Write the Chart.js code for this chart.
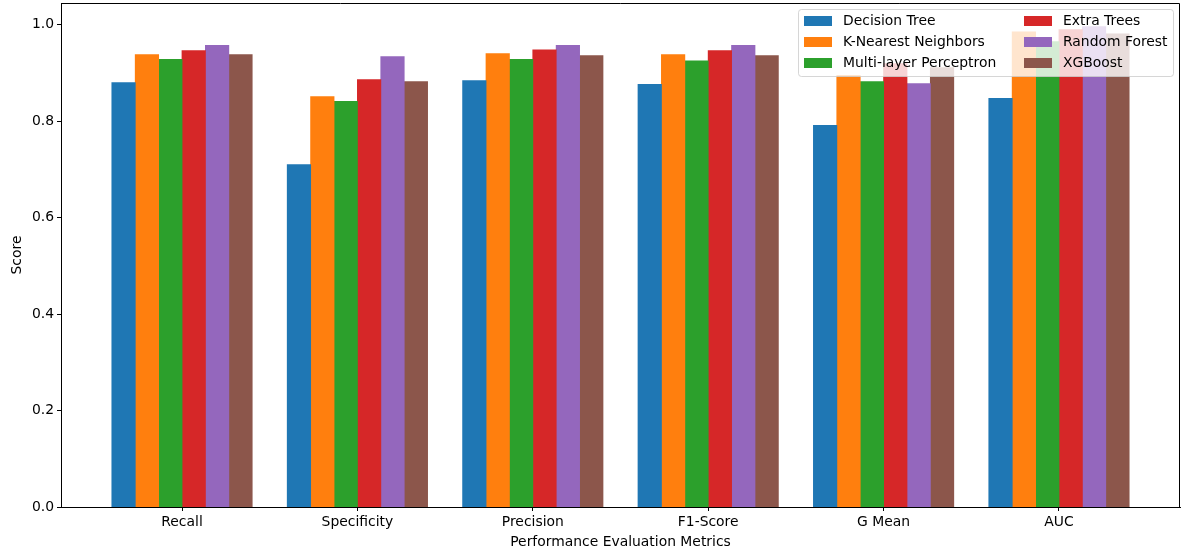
<!DOCTYPE html>
<html>
<head>
<meta charset="utf-8">
<title>Performance Evaluation Metrics</title>
<script src="https://cdn.jsdelivr.net/npm/chart.js"></script>
<style>
	body { margin: 0; background: #fff; }
	#wrap { width: 1189px; height: 560px; }
</style>
</head>
<body>
<div id="wrap"><canvas id="metrics-chartcanvas" width="1189" height="560"></canvas></div>
<script>
"use strict";

// categories on the x axis
var metrics = ["Recall", "Specificity", "Precision", "F1-Score", "G Mean", "AUC"];

// one array per model, same order as metrics
var decisionTree = [0.880, 0.710, 0.884, 0.876, 0.791, 0.847];
var kNearest     = [0.938, 0.851, 0.940, 0.938, 0.895, 0.985];
var mlp          = [0.928, 0.841, 0.928, 0.925, 0.882, 0.965];
var extraTrees   = [0.946, 0.886, 0.948, 0.946, 0.919, 0.990];
var randomForest = [0.957, 0.934, 0.957, 0.957, 0.878, 0.996];
var xgboost      = [0.938, 0.882, 0.936, 0.936, 0.911, 0.981];

var modelNames = ["Decision Tree", "K-Nearest Neighbors", "Multi-layer Perceptron",
	"Extra Trees", "Random Forest", "XGBoost"];

var yTicks = [0.0, 0.2, 0.4, 0.6, 0.8, 1.0];

var FONT = "'DejaVu Sans', sans-serif";
var FSIZE = 13.9;

Chart.defaults.color = "#000";
Chart.defaults.font.family = FONT;
Chart.defaults.font.size = FSIZE;

// build datasets
var seriesList = [decisionTree, kNearest, mlp, extraTrees, randomForest, xgboost];
var colors = ["#1f77b4", "#ff7f0e", "#2ca02c", "#d62728", "#9467bd", "#8c564b"];
var datasets = [];
for (var s = 0; s < seriesList.length; s++) {
	var pts = [];
	for (var i = 0; i < metrics.length; i++) {
		pts.push({ x: i, y: seriesList[s][i] });
	}
	datasets.push({
		label : modelNames[s],
		data : pts,
		backgroundColor : colors[s],
		borderWidth : 0,
		inflateAmount : 0.4,
		categoryPercentage : 0.8,
		barPercentage : 1.0
	});
}

// top and right sides of the box
var framePlugin = {
	id : "frame",
	afterDatasetsDraw : function(chart) {
		var a = chart.chartArea, ctx = chart.ctx;
		ctx.save();
		ctx.strokeStyle = "#000";
		ctx.lineWidth = 1;
		ctx.beginPath();
		ctx.moveTo(a.left, a.top + 0.5);
		ctx.lineTo(a.right - 0.5, a.top + 0.5);
		ctx.lineTo(a.right - 0.5, a.bottom);
		ctx.stroke();
		ctx.restore();
	}
};

// legend inside the axes, upper right, two columns
var legendPlugin = {
	id : "insideLegend",
	afterDraw : function(chart) {
		var a = chart.chartArea, ctx = chart.ctx;
		var w = 375, h = 67;
		var bx = a.right - 7 - w, by = a.top + 6;
		ctx.save();
		ctx.beginPath();
		ctx.roundRect(bx + 0.5, by + 0.5, w, h, 3);
		ctx.fillStyle = "rgba(255,255,255,0.8)";
		ctx.fill();
		ctx.strokeStyle = "rgba(204,204,204,0.8)";
		ctx.lineWidth = 1;
		ctx.stroke();
		ctx.font = FSIZE + "px " + FONT;
		ctx.textBaseline = "middle";
		var ds = chart.data.datasets;
		for (var k = 0; k < ds.length; k++) {
			var col = Math.floor(k / 3), row = k % 3;
			var hx = bx + 6 + col * 220;
			var cy = by + 12 + row * 21;
			ctx.fillStyle = ds[k].backgroundColor;
			ctx.fillRect(hx, cy - 5, 28, 10);
			ctx.fillStyle = "#000";
			ctx.fillText(ds[k].label, hx + 39, cy + 0.5);
		}
		ctx.restore();
	}
};

function noPad(scale) {
	scale.paddingTop = 0;
	scale.paddingBottom = 0;
	scale.paddingLeft = 0;
	scale.paddingRight = 0;
}

var ctx = document.getElementById("metrics-chartcanvas");
var metricsChart = new Chart(ctx, {
	type : "bar",
	data : { datasets : datasets },
	options : {
		responsive : false,
		animation : false,
		devicePixelRatio : 1,
		layout : { padding : { top : 3, right : 9, left : 0, bottom : 0 } },
		plugins : {
			legend : { display : false },
			tooltip : { enabled : false }
		},
		scales : {
			x : {
				type : "linear",
				offset : false,
				min : -0.69,
				max : 5.69,
				grid : { display : true, offset : false, drawOnChartArea : false, drawTicks : true, tickLength : 4, color : "#000" },
				border : { display : true, color : "#000", width : 1 },
				ticks : {
					padding : 3,
					maxRotation : 0,
					autoSkip : false,
					callback : function(value, index) { return metrics[index]; }
				},
				afterBuildTicks : function(scale) {
					scale.ticks = metrics.map(function(m, i) { return { value : i }; });
				},
				afterFit : function(scale) { scale.height = 53; noPad(scale); },
				title : {
					display : true,
					text : "Performance Evaluation Metrics",
					padding : { top : 0, bottom : 9.7 }
				}
			},
			y : {
				min : 0,
				max : 1.045,
				grid : { display : true, drawOnChartArea : false, drawTicks : true, tickLength : 4, color : "#000" },
				border : { display : true, color : "#000", width : 1 },
				ticks : {
					padding : 3,
					callback : function(value) { return value.toFixed(1); }
				},
				afterBuildTicks : function(scale) {
					scale.ticks = yTicks.map(function(v) { return { value : v }; });
				},
				afterFit : function(scale) { scale.width = 61; noPad(scale); },
				title : {
					display : true,
					text : "Score",
					padding : { top : 8.7, bottom : 0 }
				}
			}
		}
	},
	plugins : [framePlugin, legendPlugin]
});
</script>
</body>
</html>
